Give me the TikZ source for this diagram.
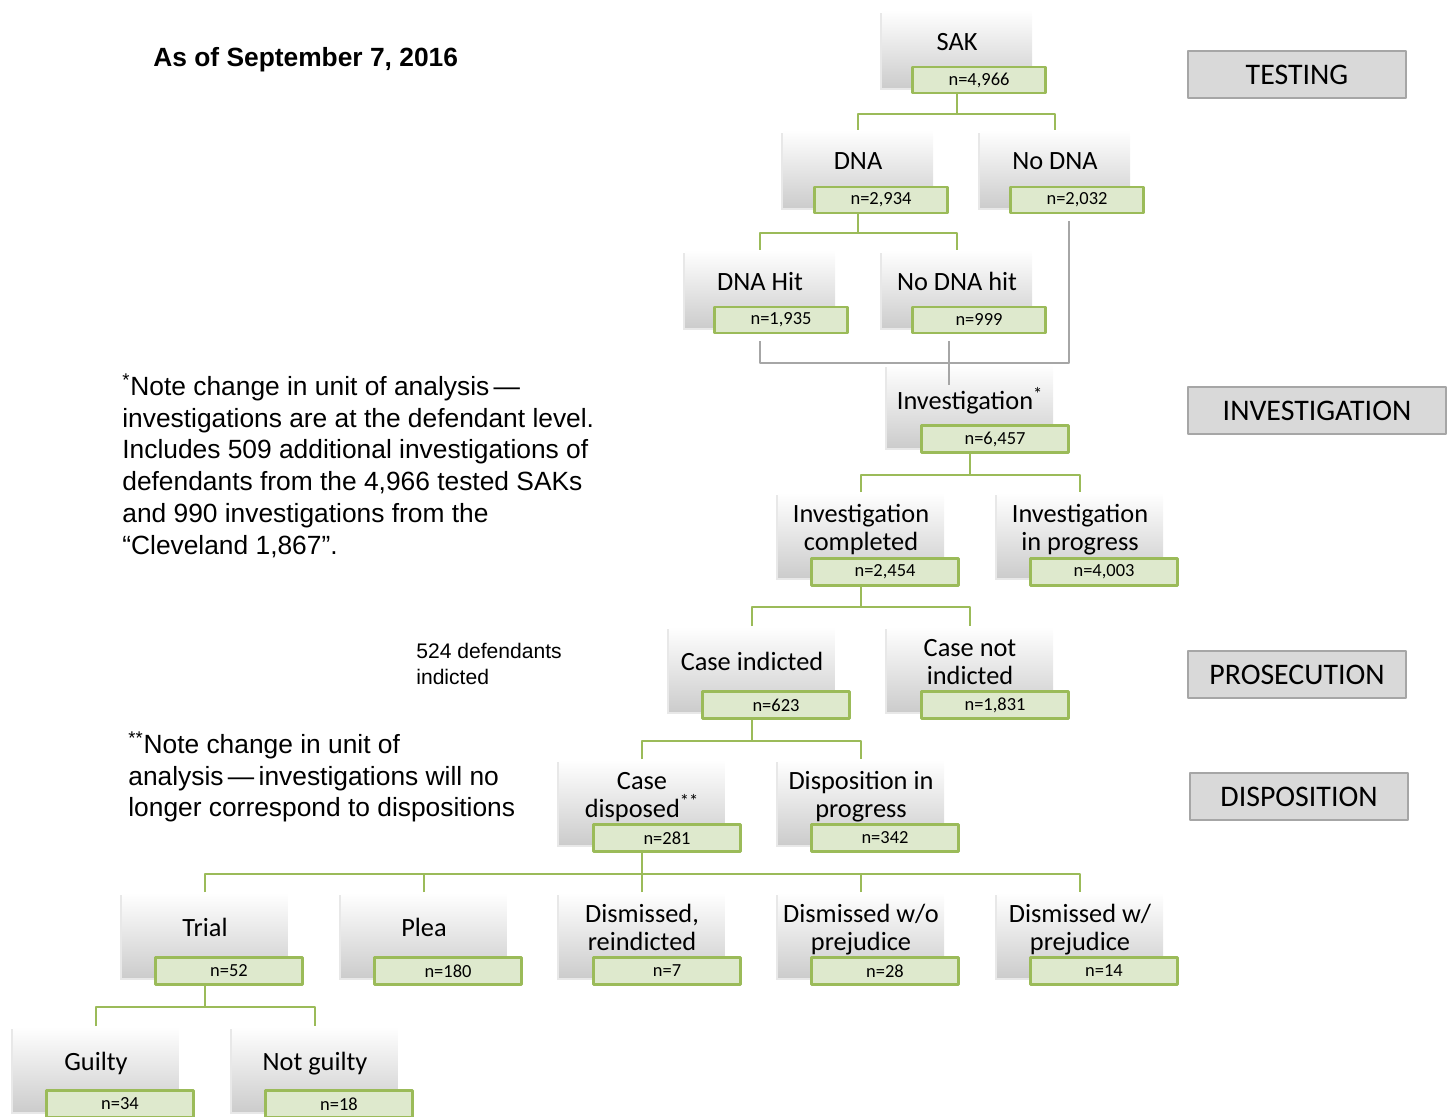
\documentclass[tikz,border=0pt]{standalone}
\usepackage{fontspec}
\setmainfont{Carlito}
\newfontfamily\helv[Ligatures=TeX]{Liberation Sans}
\usetikzlibrary{shadows}
\definecolor{leaf}{RGB}{155,187,89}
\definecolor{numfill}{RGB}{222,233,205}
\definecolor{linegray}{RGB}{166,166,166}
\definecolor{tabfill}{RGB}{217,217,217}

\begin{document}
\begin{tikzpicture}[x=0.02cm,y=-0.02cm,line join=round,
    box/.style={top color=white,bottom color=black!20,
      drop shadow={shadow xshift=-0.05cm,shadow yshift=-0.05cm,opacity=0.18},
      minimum width=3.32cm,minimum height=1.7cm,inner sep=0pt,align=center,
      text depth=0.3cm,font=\fontsize{15}{16}\selectfont},
    topbox/.style={box,minimum width=3cm,minimum height=1.56cm},
    num/.style={draw=leaf,line width=1.3pt,fill=numfill,minimum width=2.94cm,
      minimum height=0.54cm,inner sep=0pt,font=\fontsize{10.5}{12}\selectfont},
    topnum/.style={num,minimum width=2.66cm,minimum height=0.52cm},
    conn/.style={draw=leaf,line width=1.2pt},
    grayconn/.style={draw=linegray,line width=1.2pt},
    stage/.style={draw=linegray,line width=0.8pt,fill=tabfill,minimum height=0.94cm,
      font=\fontsize{17}{20}\selectfont},
    note/.style={align=left,inner sep=0pt,font=\helv\fontsize{15}{18.1}\selectfont}]
  \useasboundingbox (0,0) rectangle (1452,1116);

  % notes
  \node[anchor=west,inner sep=0pt,font=\helv\bfseries\fontsize{15}{18}\selectfont] (date) at (153,60) {As of September 7, 2016};
  \node[note,anchor=north west] (note1) at (122,373) {\textsuperscript{*}Note change in unit of analysis\,---\\investigations are at the defendant level.\\Includes 509 additional investigations of\\defendants from the 4,966 tested SAKs\\and 990 investigations from the\\``Cleveland 1,867''.};
  \node[note,anchor=north west] (note2) at (128,731) {\textsuperscript{**}Note change in unit of\\analysis\,---\,investigations will no\\longer correspond to dispositions};
  \node[align=left,inner sep=0pt,anchor=north west,font=\helv\fontsize{12}{14.7}\selectfont] (indnote) at (416,643) {524 defendants\\indicted};

  % stages
  \node[stage,minimum width=4.36cm] (testing) at (1297,74.5) {TESTING};
  \node[stage,minimum width=5.16cm] (investigation) at (1317,410.5) {INVESTIGATION};
  \node[stage,minimum width=4.36cm] (prosecution) at (1297,674.5) {PROSECUTION};
  \node[stage,minimum width=4.36cm] (disposition) at (1299,796.5) {DISPOSITION};

  % boxes
  \node[topbox] (sak) at (957,49) {SAK};
  \node[topbox] (dna) at (858,169) {DNA};
  \node[topbox] (nodna) at (1055,169) {No DNA};
  \node[topbox] (hit) at (760,289) {DNA Hit};
  \node[topbox] (nohit) at (957,289) {No DNA hit};
  \node[box,minimum height=1.66cm] (inv) at (970,406) {Investigation\textsuperscript{*}};
  \node[box] (invc) at (861,535) {Investigation\\completed};
  \node[box] (invp) at (1080,535) {Investigation\\in progress};
  \node[box] (ind) at (752,669) {Case indicted};
  \node[box] (nind) at (970,669) {Case not\\indicted};
  \node[box] (disp) at (642,802) {Case\\disposed\textsuperscript{**}};
  \node[box] (dprog) at (861,802) {Disposition in\\progress};
  \node[box] (trial) at (205,935) {Trial};
  \node[box] (plea) at (424,935) {Plea};
  \node[box] (dre) at (642,935) {Dismissed,\\reindicted};
  \node[box] (dwo) at (861,935) {Dismissed w/o\\prejudice};
  \node[box] (dw) at (1080,935) {Dismissed w/\\prejudice};
  \node[box] (guilty) at (96,1069) {Guilty};
  \node[box] (ng) at (315,1069) {Not guilty};

  % counts
  \node[topnum] (sak-n) at (979,80) {n=4,966};
  \node[topnum] (dna-n) at (881,200) {n=2,934};
  \node[topnum] (nodna-n) at (1077,200) {n=2,032};
  \node[topnum] (hit-n) at (781,320) {n=1,935};
  \node[topnum] (nohit-n) at (979,320) {n=999};
  \node[num] (inv-n) at (995,439) {n=6,457};
  \node[num] (invc-n) at (885,572) {n=2,454};
  \node[num] (invp-n) at (1104,572) {n=4,003};
  \node[num] (ind-n) at (776,705) {n=623};
  \node[num] (nind-n) at (995,705) {n=1,831};
  \node[num] (disp-n) at (667,838) {n=281};
  \node[num] (dprog-n) at (885,838) {n=342};
  \node[num] (trial-n) at (229,971) {n=52};
  \node[num] (plea-n) at (448,971) {n=180};
  \node[num] (dre-n) at (667,971) {n=7};
  \node[num] (dwo-n) at (885,971) {n=28};
  \node[num] (dw-n) at (1104,971) {n=14};
  \node[num] (guilty-n) at (120,1104) {n=34};
  \node[num] (ng-n) at (339,1104) {n=18};

  % connectors
  \draw[conn] (sak-n.south -| sak.south) -- ++(0,20) coordinate (j1);
  \draw[conn] (dna.north) |- (j1) -| (nodna.north);
  \draw[conn] (dna-n.south -| dna.south) -- ++(0,19) coordinate (j2);
  \draw[conn] (hit.north) |- (j2) -| (nohit.north);
  \coordinate (g1) at (1069,363);
  \coordinate (g2) at (949,385);
  \draw[grayconn] ([yshift=-0.14cm]hit-n.south -| hit.south) |- (g1) -- ([yshift=-0.14cm]nodna-n.south -| g1);
  \draw[grayconn] ([yshift=-0.14cm]nohit-n.south -| g2) -- (g2);
  \draw[conn] (inv-n.south -| inv.south) -- ++(0,21) coordinate (j3);
  \draw[conn] (invc.north) |- (j3) -| (invp.north);
  \draw[conn] (invc-n.south -| invc.south) -- ++(0,20) coordinate (j4);
  \draw[conn] (ind.north) |- (j4) -| (nind.north);
  \draw[conn] (ind-n.south -| ind.south) -- ++(0,21) coordinate (j5);
  \draw[conn] (disp.north) |- (j5) -| (dprog.north);
  \draw[conn] (disp-n.south -| disp.south) -- ++(0,21) coordinate (j6);
  \draw[conn] (trial.north) |- (j6) -| (dw.north);
  \draw[conn] (plea.north) -- (plea.north |- j6);
  \draw[conn] (dre.north) -- (j6);
  \draw[conn] (dwo.north) -- (dwo.north |- j6);
  \draw[conn] (trial-n.south -| trial.south) -- ++(0,21) coordinate (j7);
  \draw[conn] (guilty.north) |- (j7) -| (ng.north);
\end{tikzpicture}
\end{document}
